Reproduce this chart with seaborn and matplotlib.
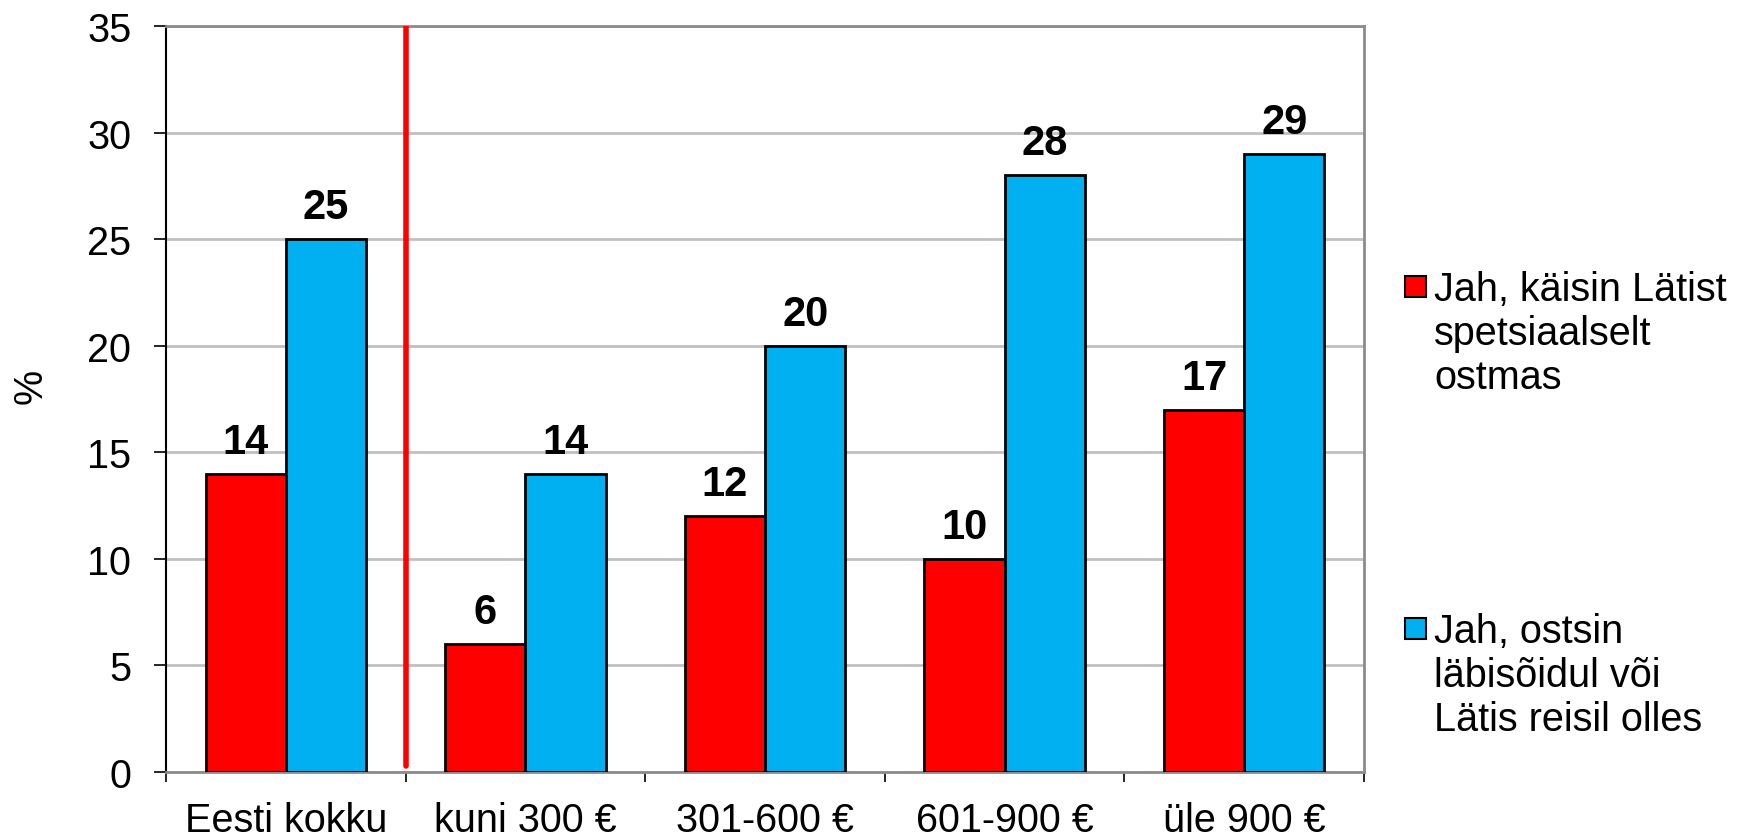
import matplotlib
matplotlib.use("Agg")
import matplotlib.pyplot as plt
import seaborn as sns
import pandas as pd
from matplotlib.patches import Rectangle
from matplotlib.legend_handler import HandlerPatch

categories = ["Eesti kokku", "kuni 300 €", "301-600 €", "601-900 €", "üle 900 €"]
series_names = ["Jah, käisin Lätist\nspetsiaalselt\nostmas",
                "Jah, ostsin\nläbisõidul või\nLätis reisil olles"]
values_red = [14, 6, 12, 10, 17]
values_blue = [25, 14, 20, 28, 29]
colors = ["#FF0000", "#00B0F0"]
y_ticks = [0, 5, 10, 15, 20, 25, 30, 35]

sns.set_theme(style="white")
plt.rcParams['font.family'] = ['Liberation Sans', 'DejaVu Sans']
for k in ["text.color", "axes.labelcolor", "xtick.color", "ytick.color"]:
    plt.rcParams[k] = "black"

df = pd.DataFrame({
    "cat": categories * 2,
    "series": [series_names[0]] * 5 + [series_names[1]] * 5,
    "val": values_red + values_blue,
})

fig = plt.figure(figsize=(17.42, 8.37), dpi=100)
ax = fig.add_axes([166 / 1742, 1 - 773 / 837, (1364 - 166) / 1742, (773 - 27) / 837])

sns.barplot(data=df, x="cat", y="val", hue="series", palette=colors,
            width=0.67, ax=ax, edgecolor="black", linewidth=2, saturation=1,
            legend=False, errorbar=None, zorder=3)

ax.set_ylim(0, 35)
ax.set_xlim(-0.5, len(categories) - 0.5)
ax.set_yticks(y_ticks)
ax.yaxis.grid(True, color="#c0c0c0", linewidth=2, zorder=0)
ax.set_axisbelow(True)

# spines
ax.spines["left"].set_color("black")
ax.spines["left"].set_linewidth(1.5)
for s in ["top", "right", "bottom"]:
    ax.spines[s].set_color("#8c8c8c")
    ax.spines[s].set_linewidth(2)

ax.tick_params(axis="y", which="major", length=9, width=1.2, color="black",
               labelsize=28.5, pad=16, left=True)
ax.tick_params(axis="x", which="major", length=0, labelsize=28.5, pad=21)
ax.set_xticks(range(len(categories)))
ax.set_xticklabels(categories)
ax.set_xticks([i - 0.5 for i in range(len(categories) + 1)], minor=True)
ax.tick_params(axis="x", which="minor", length=7, width=1.2, color="black", bottom=True)
ax.set_xlabel("")
ax.set_ylabel("%", fontsize=28.5)
ax.yaxis.set_label_coords((50 - 166) / 1198, (773 - 386) / 746)

# data labels
for cont in ax.containers:
    for bar in cont:
        h = bar.get_height()
        ax.annotate(f"{h:.0f}", (bar.get_x() + bar.get_width() / 2, h),
                    xytext=(0, 15), textcoords="offset points",
                    ha="center", va="baseline", fontsize=30, fontweight="bold",
                    zorder=5)

# red separator line
ax.axvline(0.5, ymin=0.3 / 35, ymax=1, color="#FF0000", linewidth=4, zorder=4)

# legend
class TopHandler(HandlerPatch):
    def create_artists(self, legend, orig_handle, xdescent, ydescent, width,
                       height, fontsize, trans):
        p = Rectangle((-xdescent, -ydescent + 36.5), 15, 15,
                      facecolor=orig_handle.get_facecolor(),
                      edgecolor="black", linewidth=1.5, transform=trans)
        return [p]

handles = [Rectangle((0, 0), 1, 1, facecolor=c, edgecolor="black") for c in colors]
fig.legend(handles, series_names, loc="upper left",
           bbox_to_anchor=(1405 / 1742, 1 - 271 / 837), frameon=False,
           fontsize=28.5, handlelength=0.53, handleheight=0.7, handletextpad=0.2,
           labelspacing=5.45, borderpad=0, borderaxespad=0,
           handler_map={Rectangle: TopHandler()})

fig.savefig("out.png", dpi=100)
